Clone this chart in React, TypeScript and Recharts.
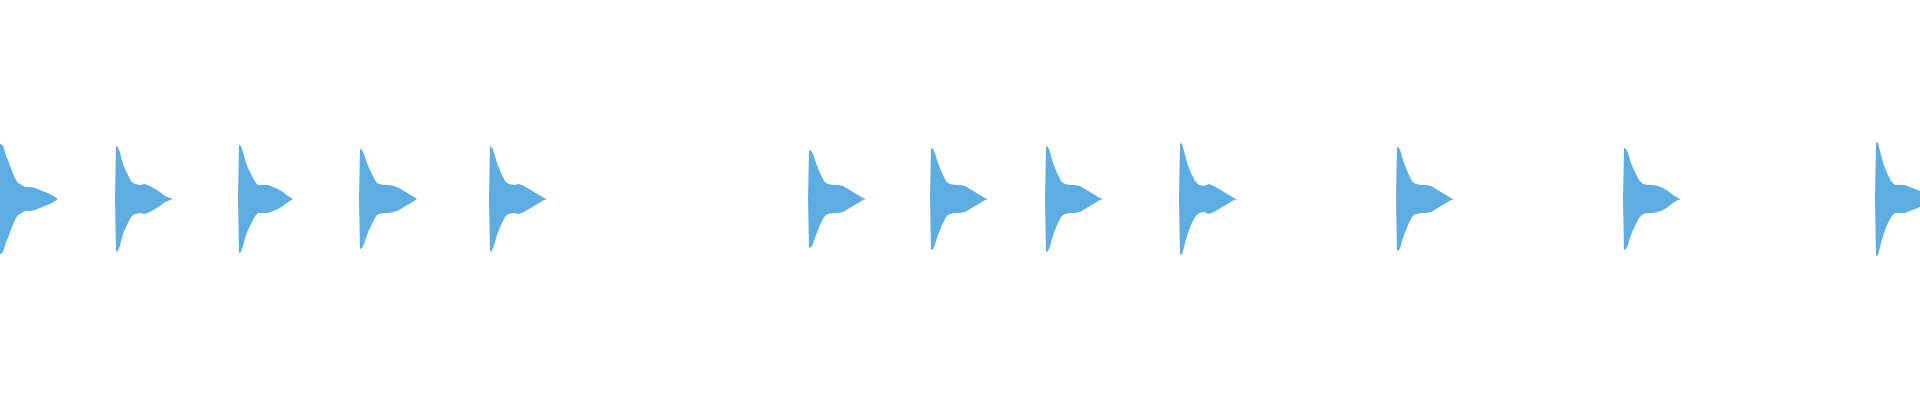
import { AreaChart, Area, XAxis, YAxis } from "recharts";

// note onsets along the time axis (ms)
const onsets = [0, 115, 238, 359, 489, 808, 930, 1045, 1179, 1396, 1623, 1875];

// sample offsets after each onset (ms) at which the envelope was read
const envelopeOffsets = [0, 1, 3, 4, 5, 6, 8, 10, 12, 14, 16, 18, 20, 25, 30, 35, 40, 45, 50, 55, 58];

// amplitude envelope of each note, one list per onset (the first note is already sounding at t = 0)
const envelopes = [
  [55, 55, 53, 50, 47, 43, 39, 33, 28, 23, 19, 16, 15, 12, 12, 11, 9, 7, 5, 2, 0],
  [0, 53, 52, 49, 47, 42, 35, 30, 26, 22, 18, 16, 15, 14, 15, 13, 10, 7, 3, 1, 0],
  [0, 54, 53, 50, 47, 43, 36, 31, 27, 23, 19, 16, 14, 14, 14, 12, 10, 7, 3, 0, 0],
  [0, 50, 49, 47, 45, 42, 36, 31, 27, 23, 19, 16, 15, 14, 14, 13, 11, 8, 5, 2, 0],
  [0, 53, 51, 49, 46, 43, 36, 31, 26, 22, 18, 16, 15, 14, 15, 13, 10, 7, 4, 1, 0],
  [0, 49, 48, 47, 45, 42, 36, 31, 26, 22, 18, 16, 15, 14, 14, 13, 10, 7, 4, 1, 0],
  [0, 51, 50, 48, 46, 42, 36, 31, 26, 22, 18, 16, 15, 14, 14, 13, 10, 7, 4, 1, 0],
  [0, 53, 52, 50, 47, 43, 36, 31, 26, 22, 18, 16, 15, 14, 14, 13, 10, 7, 4, 1, 0],
  [0, 56, 55, 52, 48, 44, 37, 31, 26, 22, 18, 16, 14, 13, 15, 13, 10, 7, 4, 1, 0],
  [0, 52, 51, 49, 46, 42, 36, 31, 26, 22, 18, 16, 15, 14, 14, 13, 10, 7, 4, 1, 0],
  [0, 51, 50, 48, 46, 42, 36, 31, 27, 23, 19, 17, 15, 14, 14, 13, 11, 8, 4, 1, 0],
  [0, 57, 56, 52, 48, 44, 37, 31, 26, 22, 18, 16, 14, 14, 14, 12, 10, 8, 4, 1, 0],
];

const data = onsets.flatMap((t0, i) =>
  envelopeOffsets.map((dt, j) => ({
    t: t0 + dt,
    hi: envelopes[i][j],
    lo: -envelopes[i][j],
  }))
);

export default function App() {
  return (
    <>
      <style>{`body { margin: 0; }`}</style>
      <AreaChart width={1920} height={400} data={data} margin={{ top: 0, right: 0, left: 0, bottom: 0 }}>
        <XAxis dataKey="t" type="number" domain={[0, 1920]} allowDataOverflow hide />
        <YAxis domain={[-201, 199]} allowDataOverflow hide />
        <Area type="linear" dataKey="hi" baseValue={0} stroke="none" fill="#5dade2" fillOpacity={1} dot={false} activeDot={false} isAnimationActive={false} />
        <Area type="linear" dataKey="lo" baseValue={0} stroke="none" fill="#5dade2" fillOpacity={1} dot={false} activeDot={false} isAnimationActive={false} />
      </AreaChart>
    </>
  );
}
